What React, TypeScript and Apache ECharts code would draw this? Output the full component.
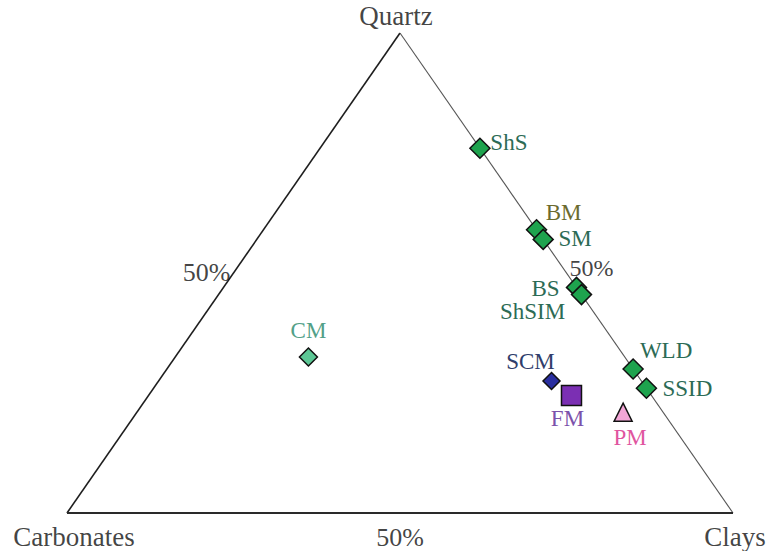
import React, { useEffect, useRef } from "react";
import * as echarts from "echarts";

// Ternary compositions (%)
const samples = ["ShS", "BM", "SM", "BS", "ShSIM", "WLD", "SSID", "CM", "SCM", "FM", "PM"];
const quartz = [76, 59, 57, 47, 45.5, 30, 26, 32.5, 27.5, 24.5, 21];
const carbonates = [0, 0, 0, 0, 0, 0, 0, 47.5, 13.5, 12, 6];
const clays = [24, 41, 43, 53, 54.5, 70, 74, 20, 59, 63.5, 73];

// Apex labels and edge tick labels
const vertexNames = ["Quartz", "Carbonates", "Clays"];
const vertexQuartz = [100, 0, 0];
const vertexCarbonates = [0, 100, 0];
const vertexClays = [0, 0, 100];
const tickLabel = "50%";
const tickQuartz = [50, 50, 0];
const tickCarbonates = [50, 0, 50];
const tickClays = [0, 50, 50];

// styles (not data)
const styleMap: Record<string, any> = {
  ShS: { symbol: "diamond", size: 20, fill: "#1ea34e", text: "#2c6b55", off: [29, -6] },
  BM: { symbol: "diamond", size: 20, fill: "#1ea34e", text: "#6b6a2e", off: [27, -17] },
  SM: { symbol: "diamond", size: 20, fill: "#1ea34e", text: "#2c6b55", off: [32, -1] },
  BS: { symbol: "diamond", size: 20, fill: "#1ea34e", text: "#2c6b55", off: [-31, 1] },
  ShSIM: { symbol: "diamond", size: 20, fill: "#1ea34e", text: "#2c6b55", off: [-49, 17] },
  WLD: { symbol: "diamond", size: 20, fill: "#1ea34e", text: "#2c6b55", off: [33, -19] },
  SSID: { symbol: "diamond", size: 20, fill: "#1ea34e", text: "#2c6b55", off: [41, 0] },
  CM: { symbol: "diamond", size: 18, fill: "#5cc795", text: "#52a088", off: [0, -27] },
  SCM: { symbol: "diamond", size: 17, fill: "#2a2fa0", text: "#2f3d6b", off: [-21, -20] },
  FM: { symbol: "rect", size: 20, fill: "#7b2fb3", text: "#7c52ab", off: [-4, 23] },
  PM: { symbol: "triangle", size: 18, fill: "#f3a6d6", text: "#e0559f", off: [7, 25] },
};

const toXY = (q: number, cb: number, cl: number) => {
  const s = q + cb + cl;
  return [(cl + q / 2) / s, q / s];
};

export default function App() {
  const ref = useRef<HTMLDivElement>(null);
  useEffect(() => {
    if (!ref.current) return;
    const chart = echarts.init(ref.current, null, { renderer: "svg" });
    const V = vertexNames.map((_, i) => toXY(vertexQuartz[i], vertexCarbonates[i], vertexClays[i]));
    const font = "'Liberation Serif', 'Times New Roman', serif";
    const edge = (a: number[], b: number[], color: string, width: number) => ({
      type: "line",
      data: [a, b],
      symbol: "none",
      silent: true,
      lineStyle: { color, width },
      z: 1,
    });
    const vertexOffsets = [[-4, -17], [7, 24], [2, 24]];
    const tickOffsets = [[-27, -1], [25, -5], [0, 24]];
    const series: any[] = [
      edge(V[1], V[0], "#1e1e1e", 1.6),
      edge(V[0], V[2], "#555555", 1.1),
      edge(V[1], V[2], "#2a2a2a", 2),
      {
        type: "scatter",
        symbolSize: 0,
        silent: true,
        z: 3,
        data: vertexNames.map((n, i) => ({
          value: V[i],
          name: n,
          label: {
            show: true,
            position: "inside",
            formatter: n,
            offset: vertexOffsets[i],
            color: "#111",
            fontSize: 27,
            fontFamily: font,
          },
        })),
      },
      {
        type: "scatter",
        symbolSize: 0,
        silent: true,
        z: 3,
        data: tickQuartz.map((q, i) => ({
          value: toXY(q, tickCarbonates[i], tickClays[i]),
          label: {
            show: true,
            position: "inside",
            formatter: tickLabel,
            offset: tickOffsets[i],
            color: "#111",
            fontSize: i === 1 ? 24 : 26,
            fontFamily: font,
          },
        })),
      },
    ];
    samples.forEach((s, i) => {
      const st = styleMap[s];
      series.push({
        type: "scatter",
        name: s,
        symbol: st.symbol,
        symbolSize: st.size,
        z: 4,
        itemStyle: { color: st.fill, borderColor: "#111", borderWidth: 1.5, opacity: 1 },
        label: {
          show: true,
          position: "inside",
          formatter: s,
          offset: st.off,
          color: st.text,
          fontSize: 23,
          fontFamily: font,
        },
        data: [toXY(quartz[i], carbonates[i], clays[i])],
      });
    });
    chart.setOption({
      animation: false,
      backgroundColor: "#ffffff",
      grid: { left: 67, right: 34, top: 33, bottom: 38 },
      xAxis: { type: "value", min: 0, max: 1, show: false },
      yAxis: { type: "value", min: 0, max: 1, show: false },
      series,
    });
    return () => chart.dispose();
  }, []);
  return <div ref={ref} style={{ width: 767, height: 551, position: "absolute", left: 0, top: 0 }} />;
}
